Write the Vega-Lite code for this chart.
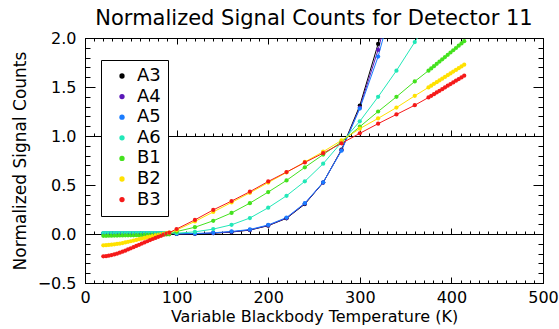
{
  "$schema": "https://vega.github.io/schema/vega-lite/v6.json",
  "width": 458,
  "height": 245,
  "autosize": {"type": "none"},
  "padding": {"left": 85, "top": 38, "right": 16, "bottom": 46},
  "background": "white",
  "title": {"text": "Normalized Signal Counts for Detector 11", "fontSize": 21, "font": "DejaVu Sans", "fontWeight": "normal", "color": "black", "offset": 1, "anchor": "middle"},
  "config": {
    "view": {"stroke": null},
    "axis": {"grid": false, "labelFont": "DejaVu Sans", "labelColor": "black", "titleFont": "DejaVu Sans", "titleFontWeight": "normal", "titleColor": "black", "domainColor": "black", "tickColor": "black", "domainWidth": 1, "tickWidth": 1, "labelOverlap": false}
  },
  "data": {"values": [
    {"t":20,"A3":0.003,"A4":0.005,"A5":0.007,"A6":0.010,"B1":-0.018,"B2":-0.115,"B3":-0.228},
    {"t":23,"A3":0.003,"A4":0.005,"A5":0.007,"A6":0.010,"B1":-0.018,"B2":-0.114,"B3":-0.226},
    {"t":26,"A3":0.003,"A4":0.005,"A5":0.007,"A6":0.010,"B1":-0.017,"B2":-0.112,"B3":-0.221},
    {"t":29,"A3":0.003,"A4":0.005,"A5":0.007,"A6":0.010,"B1":-0.017,"B2":-0.109,"B3":-0.215},
    {"t":32,"A3":0.003,"A4":0.005,"A5":0.007,"A6":0.010,"B1":-0.016,"B2":-0.105,"B3":-0.208},
    {"t":35,"A3":0.003,"A4":0.005,"A5":0.007,"A6":0.010,"B1":-0.016,"B2":-0.101,"B3":-0.200},
    {"t":38,"A3":0.003,"A4":0.005,"A5":0.007,"A6":0.010,"B1":-0.015,"B2":-0.097,"B3":-0.191},
    {"t":41,"A3":0.003,"A4":0.005,"A5":0.007,"A6":0.010,"B1":-0.015,"B2":-0.092,"B3":-0.181},
    {"t":44,"A3":0.003,"A4":0.005,"A5":0.007,"A6":0.010,"B1":-0.014,"B2":-0.086,"B3":-0.170},
    {"t":47,"A3":0.003,"A4":0.005,"A5":0.007,"A6":0.010,"B1":-0.014,"B2":-0.080,"B3":-0.158},
    {"t":50,"A3":0.003,"A4":0.005,"A5":0.007,"A6":0.010,"B1":-0.013,"B2":-0.074,"B3":-0.146},
    {"t":53,"A3":0.003,"A4":0.005,"A5":0.007,"A6":0.010,"B1":-0.013,"B2":-0.067,"B3":-0.134},
    {"t":56,"A3":0.003,"A4":0.005,"A5":0.007,"A6":0.010,"B1":-0.012,"B2":-0.060,"B3":-0.122},
    {"t":59,"A3":0.003,"A4":0.005,"A5":0.007,"A6":0.010,"B1":-0.012,"B2":-0.053,"B3":-0.110},
    {"t":62,"A3":0.003,"A4":0.005,"A5":0.007,"A6":0.010,"B1":-0.011,"B2":-0.046,"B3":-0.098},
    {"t":65,"A3":0.003,"A4":0.005,"A5":0.007,"A6":0.010,"B1":-0.010,"B2":-0.040,"B3":-0.086},
    {"t":68,"A3":0.003,"A4":0.005,"A5":0.007,"A6":0.010,"B1":-0.010,"B2":-0.033,"B3":-0.074},
    {"t":71,"A3":0.003,"A4":0.005,"A5":0.007,"A6":0.010,"B1":-0.009,"B2":-0.027,"B3":-0.062},
    {"t":74,"A3":0.003,"A4":0.005,"A5":0.007,"A6":0.010,"B1":-0.008,"B2":-0.021,"B3":-0.051},
    {"t":77,"A3":0.003,"A4":0.005,"A5":0.007,"A6":0.010,"B1":-0.008,"B2":-0.015,"B3":-0.040},
    {"t":80,"A3":0.003,"A4":0.005,"A5":0.007,"A6":0.010,"B1":-0.007,"B2":-0.009,"B3":-0.029},
    {"t":83,"A3":0.003,"A4":0.005,"A5":0.007,"A6":0.010,"B1":-0.006,"B2":-0.003,"B3":-0.018},
    {"t":86,"A3":0.003,"A4":0.005,"A5":0.007,"A6":0.010,"B1":-0.005,"B2":0.003,"B3":-0.007},
    {"t":89,"A3":0.003,"A4":0.005,"A5":0.007,"A6":0.010,"B1":-0.004,"B2":0.008,"B3":0.004},
    {"t":92,"A3":0.003,"A4":0.005,"A5":0.007,"A6":0.010,"B1":-0.003,"B2":0.014,"B3":0.014},
    {"t":100,"A3":0.000,"A4":0.001,"A5":0.003,"A6":0.008,"B1":0.025,"B2":0.040,"B3":0.051},
    {"t":120,"A3":0.002,"A4":0.003,"A5":0.005,"A6":0.022,"B1":0.069,"B2":0.128,"B3":0.144},
    {"t":140,"A3":0.008,"A4":0.009,"A5":0.012,"A6":0.050,"B1":0.135,"B2":0.225,"B3":0.246},
    {"t":160,"A3":0.020,"A4":0.022,"A5":0.026,"A6":0.094,"B1":0.215,"B2":0.322,"B3":0.336},
    {"t":180,"A3":0.040,"A4":0.042,"A5":0.046,"A6":0.163,"B1":0.315,"B2":0.420,"B3":0.432},
    {"t":200,"A3":0.085,"A4":0.088,"A5":0.092,"A6":0.268,"B1":0.428,"B2":0.525,"B3":0.536},
    {"t":220,"A3":0.160,"A4":0.163,"A5":0.168,"A6":0.390,"B1":0.547,"B2":0.628,"B3":0.632},
    {"t":240,"A3":0.305,"A4":0.310,"A5":0.315,"A6":0.537,"B1":0.680,"B2":0.735,"B3":0.730},
    {"t":260,"A3":0.525,"A4":0.525,"A5":0.528,"A6":0.717,"B1":0.810,"B2":0.840,"B3":0.825},
    {"t":280,"A3":0.860,"A4":0.855,"A5":0.850,"A6":0.935,"B1":0.940,"B2":0.955,"B3":0.925},
    {"t":300,"A3":1.310,"A4":1.290,"A5":1.280,"A6":1.150,"B1":1.095,"B2":1.075,"B3":1.027},
    {"t":320,"A3":1.940,"A4":1.880,"A5":1.810,"A6":1.400,"B1":1.250,"B2":1.180,"B3":1.126},
    {"t":340,"A3":2.700,"A4":2.600,"A5":2.500,"A6":1.667,"B1":1.400,"B2":1.290,"B3":1.220},
    {"t":360,"A6":1.958,"B1":1.557,"B2":1.410,"B3":1.314},
    {"t":375,"A6":2.180,"B1":1.667,"B2":1.496,"B3":1.393},
    {"t":378,"B1":1.690,"B2":1.514,"B3":1.410},
    {"t":381,"B1":1.713,"B2":1.532,"B3":1.427},
    {"t":384,"B1":1.736,"B2":1.549,"B3":1.444},
    {"t":387,"B1":1.759,"B2":1.567,"B3":1.461},
    {"t":390,"B1":1.782,"B2":1.585,"B3":1.478},
    {"t":393,"B1":1.806,"B2":1.603,"B3":1.496},
    {"t":396,"B1":1.829,"B2":1.621,"B3":1.513},
    {"t":399,"B1":1.852,"B2":1.639,"B3":1.530},
    {"t":402,"B1":1.875,"B2":1.657,"B3":1.547},
    {"t":405,"B1":1.898,"B2":1.674,"B3":1.564},
    {"t":408,"B1":1.921,"B2":1.692,"B3":1.581},
    {"t":411,"B1":1.944,"B2":1.710,"B3":1.598},
    {"t":414,"B1":1.967,"B2":1.728,"B3":1.615}
  ]},
  "transform": [
    {"fold": ["A3","A4","A5","A6","B1","B2","B3"], "as": ["series","v"]},
    {"filter": "isValid(datum.v)"}
  ],
  "resolve": {"axis": {"x": "independent", "y": "independent"}},
  "layer": [
    {
      "mark": {"type": "line", "strokeWidth": 1, "clip": true},
      "encoding": {
        "x": {"field": "t", "type": "quantitative", "scale": {"domain": [0, 500], "nice": false},
          "axis": {"orient": "bottom", "values": [0,100,200,300,400,500], "ticks": false, "labelFontSize": 16, "labelPadding": 6, "labelFlush": false, "title": "Variable Blackbody Temperature (K)", "titleFontSize": 16, "titlePadding": 3}},
        "y": {"field": "v", "type": "quantitative", "scale": {"domain": [-0.5, 2], "nice": false, "zero": false},
          "axis": {"orient": "left", "values": [-0.5,0,0.5,1,1.5,2], "format": ".1f", "ticks": false, "labelFontSize": 16, "labelPadding": 9, "labelFlush": false, "title": "Normalized Signal Counts", "titleFontSize": 17, "titlePadding": 8}},
        "color": {"field": "series", "type": "nominal",
          "scale": {"domain": ["A3","A4","A5","A6","B1","B2","B3"], "range": ["#000000","#5a18b8","#1a7cff","#22e8b8","#44e21e","#ffe100","#f51a1a"]},
          "legend": {"title": null, "orient": "none", "legendX": 16, "legendY": 22, "fillColor": "white", "strokeColor": "black", "padding": 7, "symbolType": "circle", "symbolSize": 28, "symbolOffset": 5, "labelOffset": 6, "labelFontSize": 18, "labelFont": "DejaVu Sans", "labelColor": "black", "rowPadding": 2.6, "symbolStrokeWidth": 0,
            "encode": {"symbols": {"update": {"fill": {"scale": "color", "field": "value"}, "stroke": {"value": "transparent"}, "strokeWidth": {"value": 0}, "opacity": {"value": 1}}}}}
        },
        "detail": {"field": "series"},
        "order": {"field": "t", "type": "quantitative"}
      }
    },
    {
      "mark": {"type": "point", "filled": true, "size": 18, "opacity": 1, "clip": true},
      "encoding": {
        "x": {"field": "t", "type": "quantitative", "axis": {"orient": "bottom", "values": [0,100,200,300,400,500], "tickSize": -6, "labels": false, "domain": false, "title": null}},
        "y": {"field": "v", "type": "quantitative", "axis": {"orient": "left", "values": [-0.5,0,0.5,1,1.5,2], "tickSize": -10, "labels": false, "domain": false, "title": null}},
        "color": {"field": "series", "type": "nominal"}
      }
    },
    {
      "mark": {"type": "point", "opacity": 0, "clip": true},
      "encoding": {
        "x": {"field": "t", "type": "quantitative", "axis": {"orient": "bottom", "values": [0,10,20,30,40,50,60,70,80,90,100,110,120,130,140,150,160,170,180,190,200,210,220,230,240,250,260,270,280,290,300,310,320,330,340,350,360,370,380,390,400,410,420,430,440,450,460,470,480,490,500], "tickSize": -3, "labels": false, "domain": false, "title": null}},
        "y": {"field": "v", "type": "quantitative", "axis": {"orient": "left", "values": [-0.5,-0.4,-0.3,-0.2,-0.1,0,0.1,0.2,0.3,0.4,0.5,0.6,0.7,0.8,0.9,1,1.1,1.2,1.3,1.4,1.5,1.6,1.7,1.8,1.9,2], "tickSize": -5, "labels": false, "domain": false, "title": null}}
      }
    },
    {
      "mark": {"type": "point", "opacity": 0, "clip": true},
      "encoding": {
        "x": {"field": "t", "type": "quantitative", "axis": {"orient": "top", "values": [0,100,200,300,400,500], "tickSize": -6, "labels": false, "domain": true, "title": null}},
        "y": {"field": "v", "type": "quantitative", "axis": {"orient": "right", "values": [-0.5,0,0.5,1,1.5,2], "tickSize": -10, "labels": false, "domain": true, "title": null}}
      }
    },
    {
      "mark": {"type": "point", "opacity": 0, "clip": true},
      "encoding": {
        "x": {"field": "t", "type": "quantitative", "axis": {"orient": "top", "values": [0,10,20,30,40,50,60,70,80,90,100,110,120,130,140,150,160,170,180,190,200,210,220,230,240,250,260,270,280,290,300,310,320,330,340,350,360,370,380,390,400,410,420,430,440,450,460,470,480,490,500], "tickSize": -3, "labels": false, "domain": false, "title": null}},
        "y": {"field": "v", "type": "quantitative", "axis": {"orient": "right", "values": [-0.5,-0.4,-0.3,-0.2,-0.1,0,0.1,0.2,0.3,0.4,0.5,0.6,0.7,0.8,0.9,1,1.1,1.2,1.3,1.4,1.5,1.6,1.7,1.8,1.9,2], "tickSize": -5, "labels": false, "domain": false, "title": null}}
      }
    },
    {
      "mark": {"type": "point", "opacity": 0, "clip": true},
      "encoding": {
        "x": {"field": "t", "type": "quantitative", "axis": {"orient": "bottom", "offset": -49, "values": [0,100,200,300,400,500], "tickSize": -6, "labels": false, "domain": true, "title": null}},
        "y": {"field": "v", "type": "quantitative", "axis": null}
      }
    },
    {
      "mark": {"type": "point", "opacity": 0, "clip": true},
      "encoding": {
        "x": {"field": "t", "type": "quantitative", "axis": {"orient": "bottom", "offset": -49, "values": [0,10,20,30,40,50,60,70,80,90,100,110,120,130,140,150,160,170,180,190,200,210,220,230,240,250,260,270,280,290,300,310,320,330,340,350,360,370,380,390,400,410,420,430,440,450,460,470,480,490,500], "tickSize": -3, "labels": false, "domain": false, "title": null}},
        "y": {"field": "v", "type": "quantitative", "axis": null}
      }
    },
    {
      "mark": {"type": "point", "opacity": 0, "clip": true},
      "encoding": {
        "x": {"field": "t", "type": "quantitative", "axis": {"orient": "bottom", "offset": -147, "values": [0,100,200,300,400,500], "tickSize": -6, "labels": false, "domain": true, "title": null}},
        "y": {"field": "v", "type": "quantitative", "axis": null}
      }
    },
    {
      "mark": {"type": "point", "opacity": 0, "clip": true},
      "encoding": {
        "x": {"field": "t", "type": "quantitative", "axis": {"orient": "bottom", "offset": -147, "values": [0,10,20,30,40,50,60,70,80,90,100,110,120,130,140,150,160,170,180,190,200,210,220,230,240,250,260,270,280,290,300,310,320,330,340,350,360,370,380,390,400,410,420,430,440,450,460,470,480,490,500], "tickSize": -3, "labels": false, "domain": false, "title": null}},
        "y": {"field": "v", "type": "quantitative", "axis": null}
      }
    }
  ]
}
